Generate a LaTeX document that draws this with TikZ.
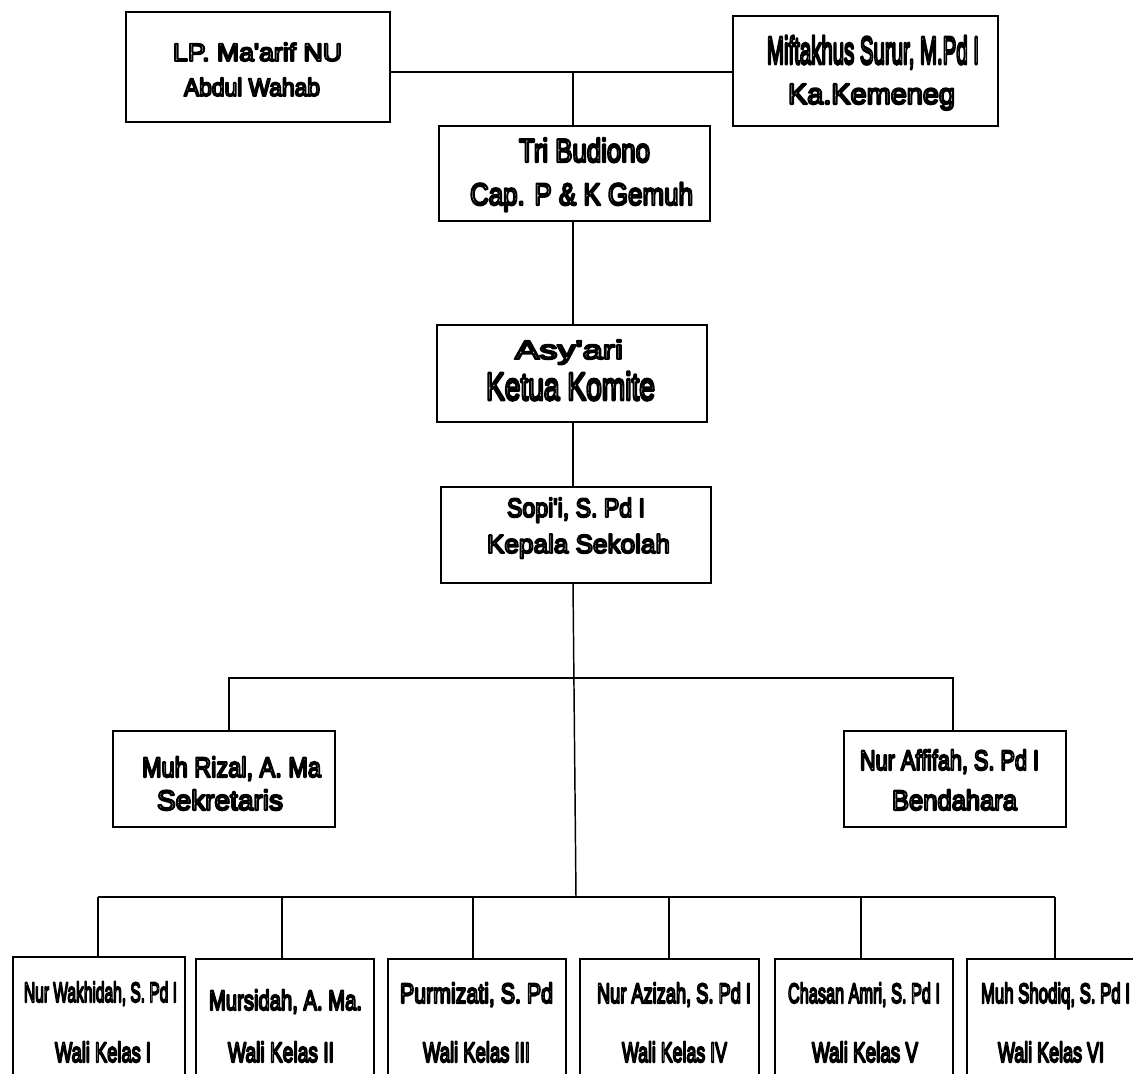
\documentclass[tikz,border=0pt]{standalone}
\usepackage{fontspec}
\setmainfont{Liberation Sans}[Ligatures=TeXOff]
\usepackage{graphicx}
\newlength\pxu
\setlength\pxu{0.75pt}
\newcommand\olt[2]{\special{pdf:literal direct 2 Tr 1 j \fpeval{round(0.056*#1,3)} w 1 g 0 G}#2\special{pdf:literal direct 0 Tr 0 j 0 g}}
\newcommand\fitw[3]{\resizebox{#1\pxu}{\height}{\fontsize{#2\pxu}{#2\pxu}\selectfont\olt{#2}{#3}}}
\tikzset{
  box/.style={draw, rectangle, line width=1.1pt, inner sep=0pt, outer sep=0pt},
  txt/.style={anchor=base west, inner sep=0pt, outer sep=0pt},
  conn/.style={line width=1.1pt}
}
\begin{document}
\begin{tikzpicture}[x=0.75pt, y=-0.75pt]
\useasboundingbox (0,0) rectangle (1133,1074);
\clip (0,0) rectangle (1133,1074);
% boxes
\node[box, minimum width=264\pxu, minimum height=110\pxu] (lp) at (258,67) {};
\node[box, minimum width=265\pxu, minimum height=110\pxu] (mf) at (865.5,71) {};
\node[box, minimum width=271\pxu, minimum height=95\pxu] (tr) at (574.5,173.5) {};
\node[box, minimum width=270\pxu, minimum height=97\pxu] (as) at (572,373.5) {};
\node[box, minimum width=270\pxu, minimum height=96\pxu] (so) at (576,535) {};
\node[box, minimum width=222\pxu, minimum height=96\pxu] (rz) at (224,779) {};
\node[box, minimum width=222\pxu, minimum height=96\pxu] (af) at (955,779) {};
\node[box, minimum width=172\pxu, minimum height=163\pxu] (w1) at (99,1038.5) {};
\node[box, minimum width=178\pxu, minimum height=161\pxu] (w2) at (285,1039.5) {};
\node[box, minimum width=178\pxu, minimum height=161\pxu] (w3) at (477,1039.5) {};
\node[box, minimum width=179\pxu, minimum height=161\pxu] (w4) at (669.5,1039.5) {};
\node[box, minimum width=178\pxu, minimum height=161\pxu] (w5) at (864,1039.5) {};
\node[box, minimum width=183\pxu, minimum height=161\pxu] (w6) at (1058.5,1039.5) {};
% texts
\node[txt] (lp1) at (173,61) {\fitw{169}{25}{LP. Ma'arif NU}};
\node[txt] (lp2) at (184,96) {\fitw{136}{25}{Abdul Wahab}};
\node[txt] (mf1) at (767,64) {\fitw{212}{39}{Miftakhus Surur, M.Pd I}};
\node[txt] (mf2) at (788,104) {\fitw{167}{29}{Ka.Kemeneg}};
\node[txt] (tr1) at (519,162) {\fitw{131}{33}{Tri Budiono}};
\node[txt] (tr2) at (470,205) {\fitw{223}{31}{Cap. P \& K Gemuh}};
\node[txt] (as1) at (515,359) {\fitw{108}{26.5}{Asy'ari}};
\node[txt] (as2) at (486,400) {\fitw{169}{39}{Ketua Komite}};
\node[txt] (so1) at (507,517) {\fitw{138}{26.5}{Sopi'i, S. Pd I}};
\node[txt] (so2) at (487,553) {\fitw{183}{26}{Kepala Sekolah}};
\node[txt] (rz1) at (142,777) {\fitw{179}{28}{Muh Rizal, A. Ma}};
\node[txt] (rz2) at (157,810) {\fitw{126}{28}{Sekretaris}};
\node[txt] (af1) at (860,770) {\fitw{179}{28}{Nur Affifah, S. Pd I}};
\node[txt] (af2) at (892,810) {\fitw{125}{28}{Bendahara}};
\node[txt] (w1a) at (24,1002) {\fitw{153}{28}{Nur Wakhidah, S. Pd I}};
\node[txt] (w2a) at (209,1010) {\fitw{153}{28}{Mursidah, A. Ma.}};
\node[txt] (w3a) at (400,1003) {\fitw{153}{28}{Purmizati, S. Pd}};
\node[txt] (w4a) at (597,1003) {\fitw{154}{28}{Nur Azizah, S. Pd I}};
\node[txt] (w5a) at (788,1003) {\fitw{152}{28}{Chasan Amri, S. Pd I}};
\node[txt] (w6a) at (981,1003) {\fitw{149}{28}{Muh Shodiq, S. Pd I}};
\node[txt] (w1b) at (55,1062) {\fitw{96}{28}{Wali Kelas I}};
\node[txt] (w2b) at (228,1062) {\fitw{106}{28}{Wali Kelas II}};
\node[txt] (w3b) at (423,1062) {\fitw{107}{28}{Wali Kelas III}};
\node[txt] (w4b) at (622,1062) {\fitw{105}{28}{Wali Kelas IV}};
\node[txt] (w5b) at (812,1062) {\fitw{106}{28}{Wali Kelas V}};
\node[txt] (w6b) at (998,1062) {\fitw{106}{28}{Wali Kelas VI}};
% connector coordinates
\coordinate (tj) at (573,72);
\coordinate (vx) at (573,0);
\coordinate (bl) at (229,678);
\coordinate (br) at (953,678);
\coordinate (bj) at (576,897);
\coordinate (d1) at (98,897);
\coordinate (d2) at (282,897);
\coordinate (d3) at (473,897);
\coordinate (d4) at (669,897);
\coordinate (d5) at (861,897);
\coordinate (d6) at (1055,897);
% connectors
\draw[conn] (lp.east |- tj) -- (mf.west |- tj);
\draw[conn] (tj) -- (tr.north -| tj);
\draw[conn] (tr.south -| vx) -- (as.north -| vx);
\draw[conn] (as.south -| vx) -- (so.north -| vx);
\draw[conn] (so.south -| vx) -- (bj);
\draw[conn] (rz.north -| bl) -- (bl) -- (br) -- (af.north -| br);
\draw[conn] (d1) -- (d6);
\draw[conn] (d1) -- (w1.north -| d1);
\draw[conn] (d2) -- (w2.north -| d2);
\draw[conn] (d3) -- (w3.north -| d3);
\draw[conn] (d4) -- (w4.north -| d4);
\draw[conn] (d5) -- (w5.north -| d5);
\draw[conn] (d6) -- (w6.north -| d6);
\end{tikzpicture}
\end{document}
